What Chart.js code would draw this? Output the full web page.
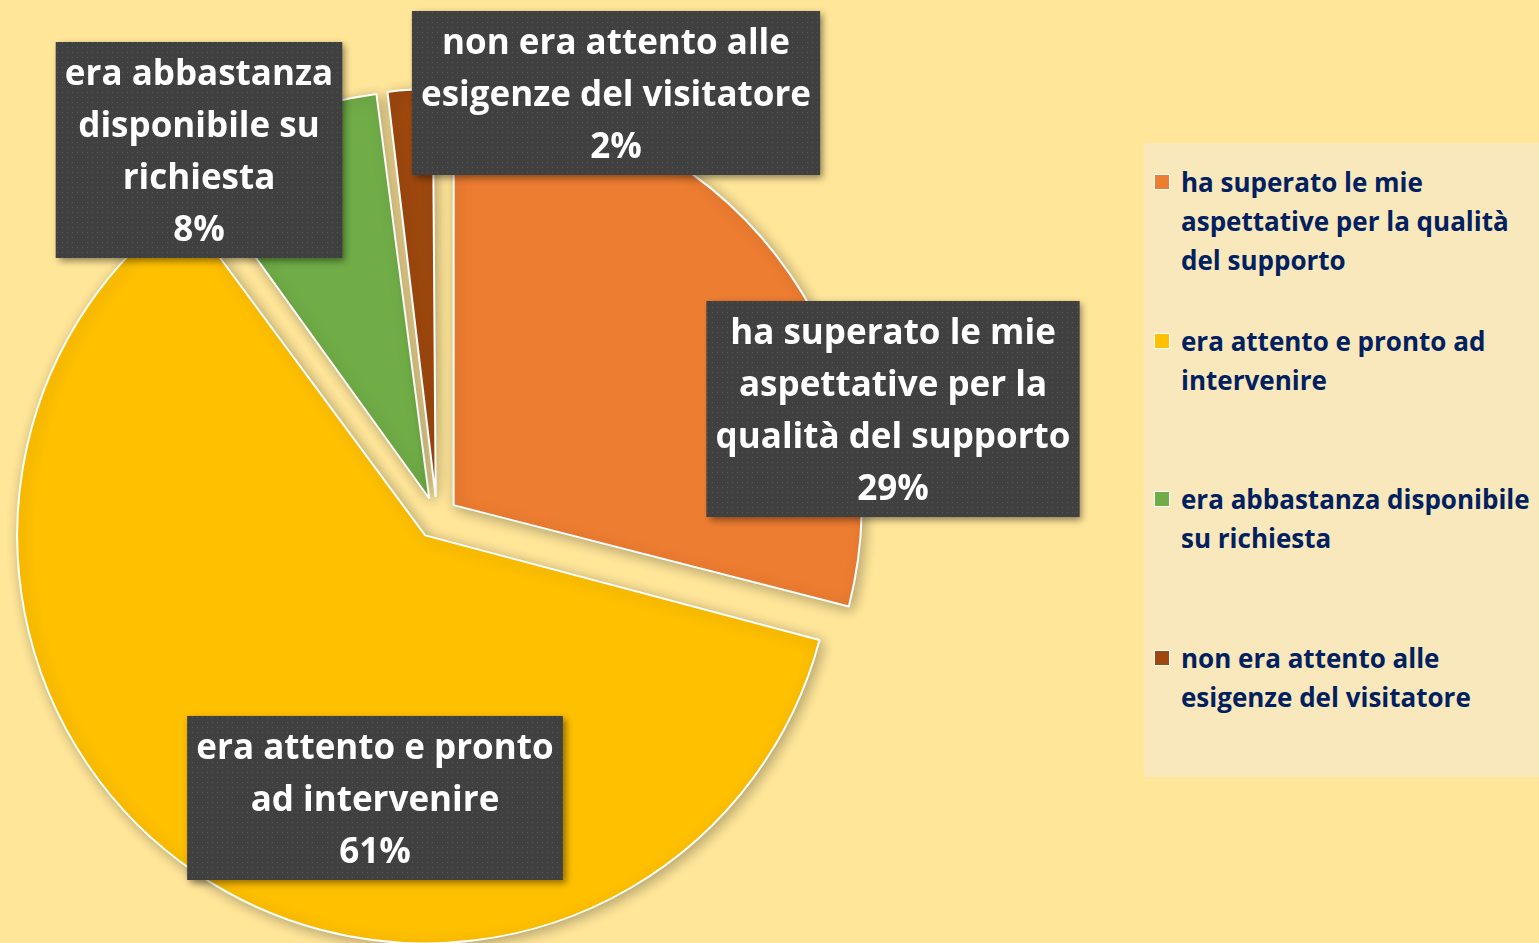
<!DOCTYPE html>
<html lang="it">
  <head>
    <meta charset="UTF-8" />
    <title>supporto visitatori</title>
    <script src="https://cdn.jsdelivr.net/npm/chart.js@4"></script>
    <style>
      html,
      body {
        margin: 0;
        padding: 0;
        background: #ffe699;
      }
      .wrap {
        position: relative;
        width: 1539px;
        height: 943px;
        overflow: hidden;
      }
      #pie {
        position: absolute;
        left: 0;
        top: 0;
      }
      .legend {
        position: absolute;
        left: 1144px;
        top: 143px;
        width: 400px;
        height: 634px;
        background: #f8e8bc;
        font-family: "Open Sans", "Noto Sans", sans-serif;
        font-weight: 700;
        font-size: 26px;
        line-height: 39px;
        color: #002060;
      }
      .legend .item {
        position: absolute;
        left: 37px;
        white-space: nowrap;
      }
      .legend .mark {
        position: absolute;
        left: -27px;
        top: 11px;
        width: 14px;
        height: 14px;
        border: 1.5px solid #fff;
      }
    </style>
  </head>
  <body>
    <div class="wrap">
      <canvas id="pie" width="1539" height="943"></canvas>
      <div class="legend" id="legend"></div>
    </div>

    <script>
      // data
      const categories = [
        "ha superato le mie aspettative per la qualità del supporto",
        "era attento e pronto ad intervenire",
        "era abbastanza disponibile su richiesta",
        "non era attento alle esigenze del visitatore",
      ];
      const shares = [29, 61, 8, 2];
      const sliceColors = ["#ED7D31", "#FFC000", "#70AD47", "#9E480E"];

      // how the category text is broken in the label boxes / legend
      const boxLines = [
        ["ha superato le mie", "aspettative per la", "qualità del supporto"],
        ["era attento e pronto", "ad intervenire"],
        ["era abbastanza", "disponibile su", "richiesta"],
        ["non era attento alle", "esigenze del visitatore"],
      ];
      const legendLines = [
        ["ha superato le mie", "aspettative per la qualità", "del supporto"],
        ["era attento e pronto ad", "intervenire"],
        ["era abbastanza disponibile", "su richiesta"],
        ["non era attento alle", "esigenze del visitatore"],
      ];

      //label box centres, px from the pie centre
      const labelOffsets = [
        [456, -109],
        [-62, 280],
        [-238, -368],
        [179, -425],
      ];

      const labelFont = "bold 35px 'Open Sans'";
      const labelLineHeight = 52;

      // small dotted texture for the label boxes
      function dotPattern(ctx) {
        const tile = document.createElement("canvas");
        tile.width = 5;
        tile.height = 5;
        const t = tile.getContext("2d");
        t.fillStyle = "#404040";
        t.fillRect(0, 0, 5, 5);
        t.fillStyle = "#575757";
        t.fillRect(2, 2, 1, 1);
        return ctx.createPattern(tile, "repeat");
      }

      // chart.js grows the radius of big exploded slices (> half circle),
      // keep every slice on the same radius like the original
      const evenExplode = {
        id: "evenExplode",
        beforeDatasetsDraw(chart) {
          const meta = chart.getDatasetMeta(0);
          const base = meta.controller.outerRadius;
          meta.data.forEach((arc) => {
            const off = (arc.options.offset || 0) / 4;
            const fix = 1 - Math.sin(Math.min(Math.PI, arc.circumference));
            arc.outerRadius = base - off * fix;
          });
        },
      };

      const pieShadow = {
        id: "pieShadow",
        beforeDatasetsDraw(chart) {
          const c = chart.ctx;
          c.save();
          c.shadowColor = "rgba(0,0,0,0.3)";
          c.shadowBlur = 14;
          c.shadowOffsetX = 3;
          c.shadowOffsetY = 3;
        },
        afterDatasetsDraw(chart) {
          chart.ctx.restore();
        },
      };

      const boxLabels = {
        id: "boxLabels",
        afterDraw(chart, args, opts) {
          const ctx = chart.ctx;
          const meta = chart.getDatasetMeta(0);
          const values = chart.data.datasets[0].data;
          const total = values.reduce((a, b) => a + b, 0);
          const pat = dotPattern(ctx);
          meta.data.forEach((arc, i) => {
            const lines = boxLines[i].concat([
              Math.round((values[i] / total) * 100) + "%",
            ]);
            ctx.save();
            ctx.font = labelFont;
            let maxW = 0;
            lines.forEach((l) => {
              maxW = Math.max(maxW, ctx.measureText(l).width);
            });
            const w = maxW + 18;
            const h = lines.length * labelLineHeight + 8;
            const x = arc.x + opts.offsets[i][0] - w / 2;
            const y = arc.y + opts.offsets[i][1] - h / 2;

            ctx.shadowColor = "rgba(0,0,0,0.45)";
            ctx.shadowBlur = 7;
            ctx.shadowOffsetX = 3;
            ctx.shadowOffsetY = 3;
            ctx.fillStyle = "#404040";
            ctx.fillRect(x, y, w, h);
            ctx.shadowColor = "transparent";
            ctx.fillStyle = pat;
            ctx.fillRect(x, y, w, h);

            ctx.fillStyle = "#ffffff";
            ctx.textAlign = "center";
            ctx.textBaseline = "alphabetic";
            lines.forEach((l, k) => {
              ctx.fillText(l, x + w / 2, y + 43 + labelLineHeight * k);
            });
            ctx.restore();
          });
        },
      };

      const config = {
        type: "pie",
        data: {
          labels: categories,
          datasets: [
            {
              data: shares,
              backgroundColor: sliceColors,
              borderColor: "#ffffff",
              borderWidth: 2,
              // chart.js draws a quarter of this as the explode distance
              offset: 84,
              radius: 408,
            },
          ],
        },
        options: {
          responsive: false,
          animation: false,
          layout: {
            padding: { left: 0, right: 665, top: 93, bottom: 0 },
          },
          plugins: {
            legend: { display: false },
            tooltip: { enabled: false },
            boxLabels: { offsets: labelOffsets },
          },
        },
        plugins: [evenExplode, pieShadow, boxLabels],
      };

      const pieChart = new Chart(document.getElementById("pie"), config);

      // html legend, built from the same arrays
      const legendEl = document.getElementById("legend");
      categories.forEach((cat, i) => {
        const item = document.createElement("div");
        item.className = "item";
        item.style.top = 20 + i * 158.7 + "px";
        item.title = cat;
        const mark = document.createElement("span");
        mark.className = "mark";
        mark.style.background = sliceColors[i];
        item.appendChild(mark);
        item.insertAdjacentHTML("beforeend", legendLines[i].join("<br>"));
        legendEl.appendChild(item);
      });
    </script>
  </body>
</html>
